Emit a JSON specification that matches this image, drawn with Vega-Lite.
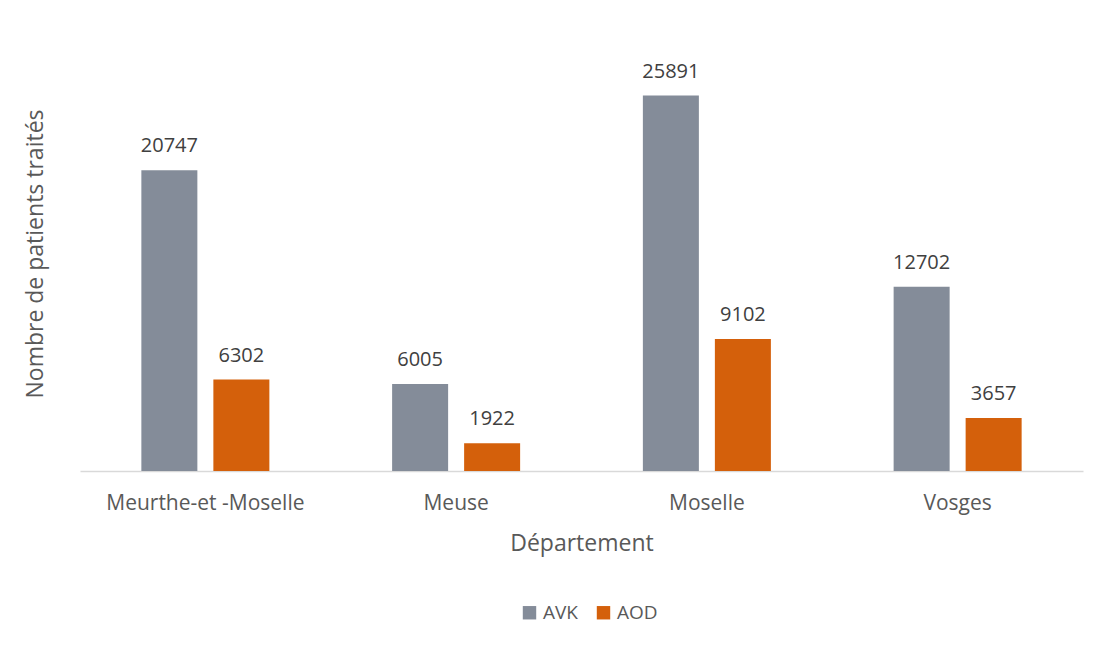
{
  "$schema": "https://vega.github.io/schema/vega-lite/v6.json",
  "width": 1003,
  "height": 435,
  "autosize": {"type": "pad"},
  "padding": {"left": 24, "top": 36, "right": 22, "bottom": 10},
  "background": "white",
  "config": {
    "font": "Open Sans",
    "view": {"stroke": null},
    "axis": {"labelColor": "#595959", "titleColor": "#595959", "titleFontWeight": "normal"}
  },
  "data": {
    "values": [
      {"Département": "Meurthe-et -Moselle", "Traitement": "AVK", "Patients": 20747},
      {"Département": "Meurthe-et -Moselle", "Traitement": "AOD", "Patients": 6302},
      {"Département": "Meuse", "Traitement": "AVK", "Patients": 6005},
      {"Département": "Meuse", "Traitement": "AOD", "Patients": 1922},
      {"Département": "Moselle", "Traitement": "AVK", "Patients": 25891},
      {"Département": "Moselle", "Traitement": "AOD", "Patients": 9102},
      {"Département": "Vosges", "Traitement": "AVK", "Patients": 12702},
      {"Département": "Vosges", "Traitement": "AOD", "Patients": 3657}
    ]
  },
  "encoding": {
    "x": {
      "field": "Département",
      "type": "nominal",
      "sort": ["Meurthe-et -Moselle", "Meuse", "Moselle", "Vosges"],
      "scale": {"paddingInner": 0.4895, "paddingOuter": 0.2447},
      "title": "Département",
      "axis": {
        "labelAngle": 0,
        "labelFontSize": 21,
        "labelLimit": 400,
        "labelPadding": 21,
        "ticks": false,
        "domainColor": "#d9d9d9",
        "domainWidth": 1.5,
        "titleFontSize": 23,
        "titlePadding": 19,
        "grid": false
      }
    },
    "xOffset": {
      "field": "Traitement",
      "type": "nominal",
      "sort": ["AVK", "AOD"],
      "scale": {"paddingInner": 0.2222, "paddingOuter": 0}
    },
    "y": {
      "field": "Patients",
      "type": "quantitative",
      "scale": {"domain": [0, 30000]},
      "title": "Nombre de patients traités",
      "axis": {
        "labels": false,
        "ticks": false,
        "domain": false,
        "grid": false,
        "titleFontSize": 23,
        "titlePadding": 33
      }
    }
  },
  "layer": [
    {
      "mark": {"type": "bar"},
      "encoding": {
        "color": {
          "field": "Traitement",
          "type": "nominal",
          "sort": ["AVK", "AOD"],
          "scale": {"domain": ["AVK", "AOD"], "range": ["#848c99", "#d4600b"]},
          "legend": {
            "orient": "none",
            "legendX": 440,
            "legendY": 567,
            "direction": "horizontal",
            "title": null,
            "symbolType": "square",
            "symbolSize": 180,
            "symbolStrokeWidth": 0,
            "labelFontSize": 19,
            "labelColor": "#595959",
            "columnPadding": 16
          }
        }
      }
    },
    {
      "mark": {"type": "text", "baseline": "alphabetic", "dy": -18, "fontSize": 20, "color": "#404040"},
      "encoding": {
        "text": {"field": "Patients", "type": "quantitative", "format": "d"}
      }
    }
  ]
}
